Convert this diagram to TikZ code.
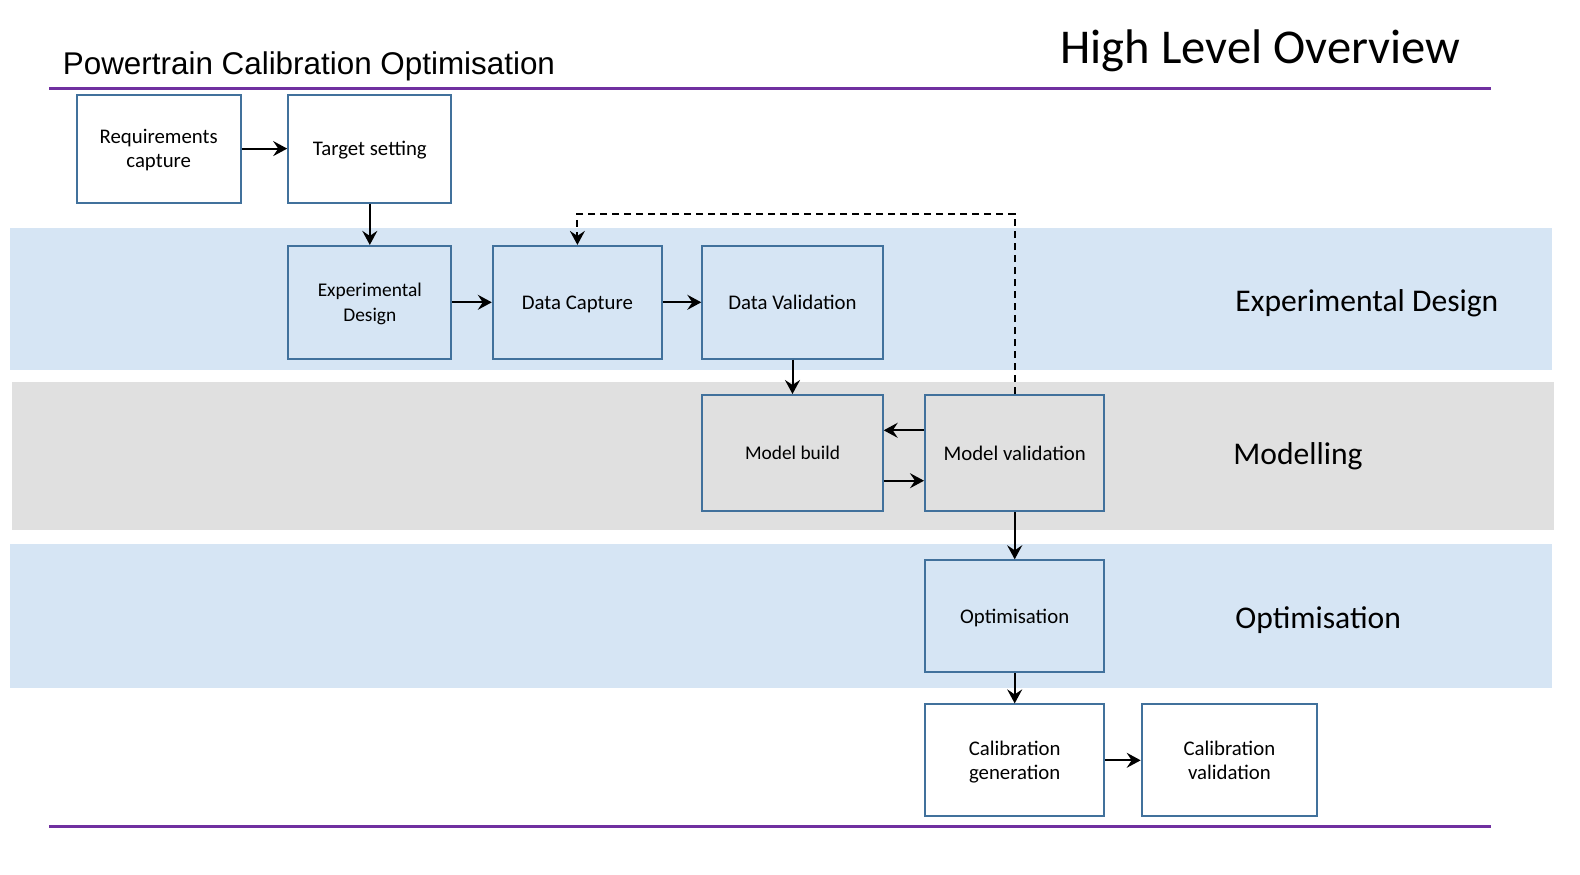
\documentclass[tikz,border=0pt]{standalone}
\usepackage{fontspec}
\setmainfont{Carlito}
\newfontfamily\arialfont{Liberation Sans}
\usetikzlibrary{arrows.meta}

\definecolor{boxblue}{HTML}{41719C}
\definecolor{bandblue}{HTML}{D6E5F4}
\definecolor{bandgrey}{HTML}{E0E0E0}
\definecolor{rulepurple}{HTML}{7030A0}

\begin{document}
\begin{tikzpicture}[x=0.5pt,y=-0.5pt,
    box/.style={draw=boxblue,line width=1pt,align=center,inner sep=2pt,text depth=0pt,font=\fontsize{10.4}{12.1}\selectfont},
    smalltext/.style={font=\fontsize{9.7}{12.1}\selectfont},
    bandlabel/.style={anchor=west,inner sep=0pt,font=\fontsize{15.8}{19}\selectfont},
    >={Stealth[length=7pt,width=7.5pt,inset=2.5pt]},
    flow/.style={->,line width=1pt}]
\useasboundingbox (0,0) rectangle (1580,874);
\foreach \top/\bot/\l/\r/\col in {228/370/10/1552/bandblue, 382/530/12/1554/bandgrey, 544/688/10/1552/bandblue}
  \fill[\col] (\l,\top) rectangle (\r,\bot);
\draw[rulepurple,line width=1.5pt] (49,88) -- (1491,88);
\draw[rulepurple,line width=1.5pt] (49,826) -- (1491,826);
\node[anchor=west,inner sep=0pt,font=\arialfont\fontsize{15.7}{19}\selectfont] (title) at (62.5,66) {Powertrain Calibration Optimisation};
\node[anchor=west,inner sep=0pt,font=\fontsize{24.3}{29}\selectfont] (overview) at (1060,50.5) {High Level Overview};
\node[bandlabel] (lbldesign) at (1235,303.5) {Experimental Design};
\node[bandlabel] (lblmodel) at (1233,456.5) {Modelling};
\node[bandlabel] (lblopt) at (1235,620) {Optimisation};
\node[box,minimum width=82.1pt,minimum height=54pt] (req) at (158.7,148.6) {Requirements\\capture};
\node[box,minimum width=81.6pt,minimum height=54pt] (target) at (369.8,148.6) {Target setting};
\node[box,smalltext,minimum width=81.6pt,minimum height=56.4pt] (expd) at (369.8,302.3) {Experimental\\Design};
\node[box,minimum width=84.6pt,minimum height=56.4pt] (dcap) at (577.4,302.3) {Data Capture};
\node[box,minimum width=90.2pt,minimum height=56.4pt] (dval) at (792.5,302.3) {Data Validation};
\node[box,smalltext,minimum width=90.2pt,minimum height=58pt] (mbuild) at (792.5,453) {Model build};
\node[box,minimum width=89.7pt,minimum height=58pt] (mval) at (1014.7,453) {Model validation};
\node[box,minimum width=89.7pt,minimum height=55.9pt] (opt) at (1014.7,616.2) {Optimisation};
\node[box,minimum width=89.7pt,minimum height=55.9pt] (calgen) at (1014.7,760.3) {Calibration\\generation};
\node[box,minimum width=87.7pt,minimum height=55.9pt] (calval) at (1229.4,760.3) {Calibration\\validation};
\foreach \a/\b in {req/target, target/expd, expd/dcap, dcap/dval, dval/mbuild, mval/opt, opt/calgen, calgen/calval}
  \draw[flow] (\a) -- (\b);
\draw[flow] ([yshift=11.35pt]mval.west) -- ([yshift=11.35pt]mbuild.east);
\draw[flow] ([yshift=-13.85pt]mbuild.east) -- ([yshift=-13.85pt]mval.west);
\coordinate (loop) at (0,213.6);
\draw[flow,dash pattern=on 3.5pt off 2.5pt] (mval.north) |- (dcap.north |- loop) -- (dcap.north);
\end{tikzpicture}
\end{document}
